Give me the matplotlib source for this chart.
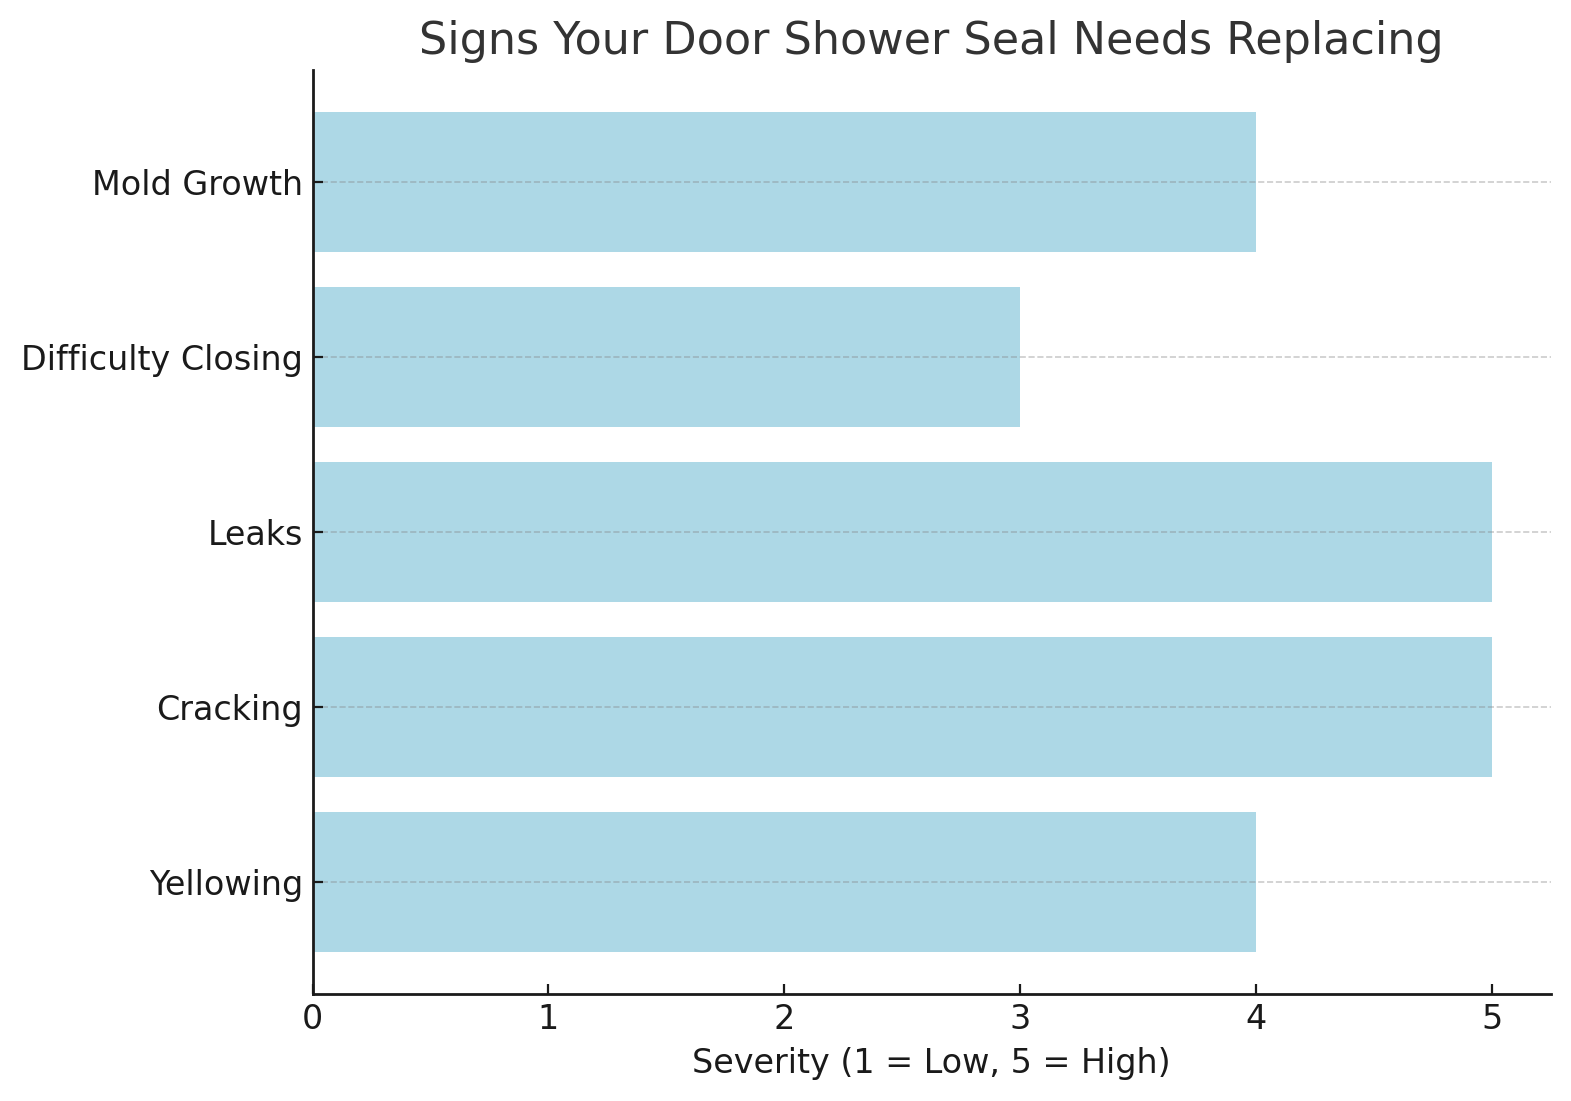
import matplotlib.pyplot as plt

signs = ['Yellowing', 'Cracking', 'Leaks', 'Difficulty Closing', 'Mold Growth']
severity = [4, 5, 5, 3, 4]

fig, ax = plt.subplots(figsize=(7.855, 5.505), dpi=200)
ax.barh(signs, severity, color='lightblue', height=0.8)

ax.set_title('Signs Your Door Shower Seal Needs Replacing', fontsize=16, color='#333333')
ax.set_xlabel('Severity (1 = Low, 5 = High)', fontsize=12, color='#1a1a1a')
ax.tick_params(axis='both', labelsize=12, colors='#1a1a1a', direction='in')
ax.grid(axis='y', linestyle='--', color='gray', alpha=0.4, linewidth=0.6)
ax.set_axisbelow(False)
ax.spines['top'].set_visible(False)
ax.spines['right'].set_visible(False)
for s in ('left', 'bottom'):
    ax.spines[s].set_linewidth(1.0)
    ax.spines[s].set_color('#1a1a1a')

plt.subplots_adjust(left=0.199, right=0.987, top=0.936, bottom=0.0975)
plt.savefig('out.png', dpi=200)
